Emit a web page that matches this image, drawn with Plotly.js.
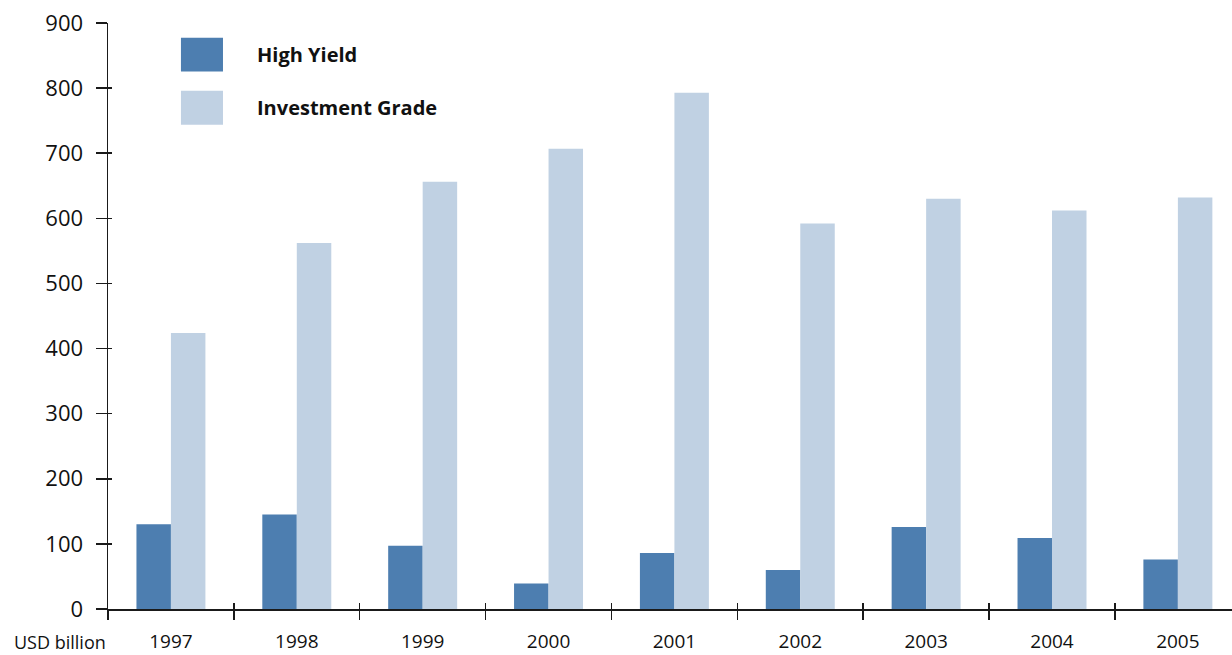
<!DOCTYPE html>
<html><head><meta charset="utf-8">
<script src="https://cdn.plot.ly/plotly-3.0.1.min.js"></script>
<style>html,body{margin:0;padding:0;background:#fff}</style>
</head><body><div id="chart" style="width:1232px;height:655px"></div>
<script>
const years = ['1997','1998','1999','2000','2001','2002','2003','2004','2005'];
const highYield = [130, 145, 97, 39, 86, 60, 126, 109, 76];
const investmentGrade = [424, 562, 656, 707, 793, 592, 630, 612, 632];
const seriesNames = ['High Yield', 'Investment Grade'];
const seriesColors = ['#4d7eb0', '#c0d1e3'];
const yTicks = [0, 100, 200, 300, 400, 500, 600, 700, 800, 900];
const unitLabel = 'USD billion';

const FONT = 'Open Sans, Noto Sans, sans-serif';
const AX = '#1a1a1a';

const data = [
  {type:'bar', name:seriesNames[0], x:years, y:highYield, marker:{color:seriesColors[0]}, showlegend:false, hoverinfo:'x+y+name'},
  {type:'bar', name:seriesNames[1], x:years, y:investmentGrade, marker:{color:seriesColors[1]}, showlegend:false, hoverinfo:'x+y+name'},
  {type:'scatter', mode:'none', x:years, y:years.map(()=>null), xaxis:'x2', yaxis:'y2', showlegend:false, hoverinfo:'skip'}
];

// legend drawn as swatches + text
const legY = [[0.9174,0.9749],[0.8265,0.8845]];
const legTextY = [0.9459, 0.8557];
const shapes = seriesNames.map((n,i)=>({type:'rect', xref:'paper', yref:'paper', x0:0.0649, x1:0.1023, y0:legY[i][0], y1:legY[i][1], fillcolor:seriesColors[i], line:{width:0}}));
const annotations = seriesNames.map((n,i)=>({xref:'paper', yref:'paper', x:0.1312, y:legTextY[i], xanchor:'left', yanchor:'middle', text:'<b>'+n+'</b>', showarrow:false, font:{family:FONT, size:20, color:'#111'}}));
annotations.push({xref:'paper', yref:'paper', x:0, y:0, xanchor:'right', yanchor:'middle', yshift:-33, text:unitLabel, showarrow:false, font:{family:FONT, size:18, color:'#111'}});

const layout = {
  width:1232, height:655,
  margin:{l:108, r:0, t:23, b:46, pad:0},
  paper_bgcolor:'#fff', plot_bgcolor:'#fff',
  barmode:'group', bargap:0.452, bargroupgap:0,
  font:{family:FONT, color:'#111'},
  xaxis:{type:'category', range:[-0.5, 8.43], tickson:'boundaries', ticks:'outside', ticklen:9, tickwidth:1.5, tickcolor:AX,
         showline:true, linecolor:AX, linewidth:1.5, showgrid:false, zeroline:false,
         tickfont:{family:FONT, size:19, color:'#111'}, ticklabelstandoff:15, fixedrange:true},
  xaxis2:{type:'category', overlaying:'x', matches:'x', anchor:'y2', tickson:'boundaries', ticks:'inside', ticklen:6, tickwidth:1.5, tickcolor:AX,
          showticklabels:false, showline:false, showgrid:false, zeroline:false},
  yaxis:{range:[0,900], tickvals:yTicks, ticks:'outside', ticklen:11, tickwidth:1.5, tickcolor:AX,
         showline:true, linecolor:AX, linewidth:1.5, showgrid:false, zeroline:false,
         tickfont:{family:FONT, size:22, color:'#111'}, ticklabelstandoff:8, fixedrange:true},
  yaxis2:{overlaying:'y', matches:'y', anchor:'x2', side:'left', tickvals:yTicks, ticks:'inside', ticklen:4, tickwidth:1.5, tickcolor:AX,
          showticklabels:false, showline:false, showgrid:false, zeroline:false},
  shapes:shapes, annotations:annotations
};

Plotly.newPlot('chart', data, layout, {displayModeBar:false, staticPlot:true});
</script></body></html>
